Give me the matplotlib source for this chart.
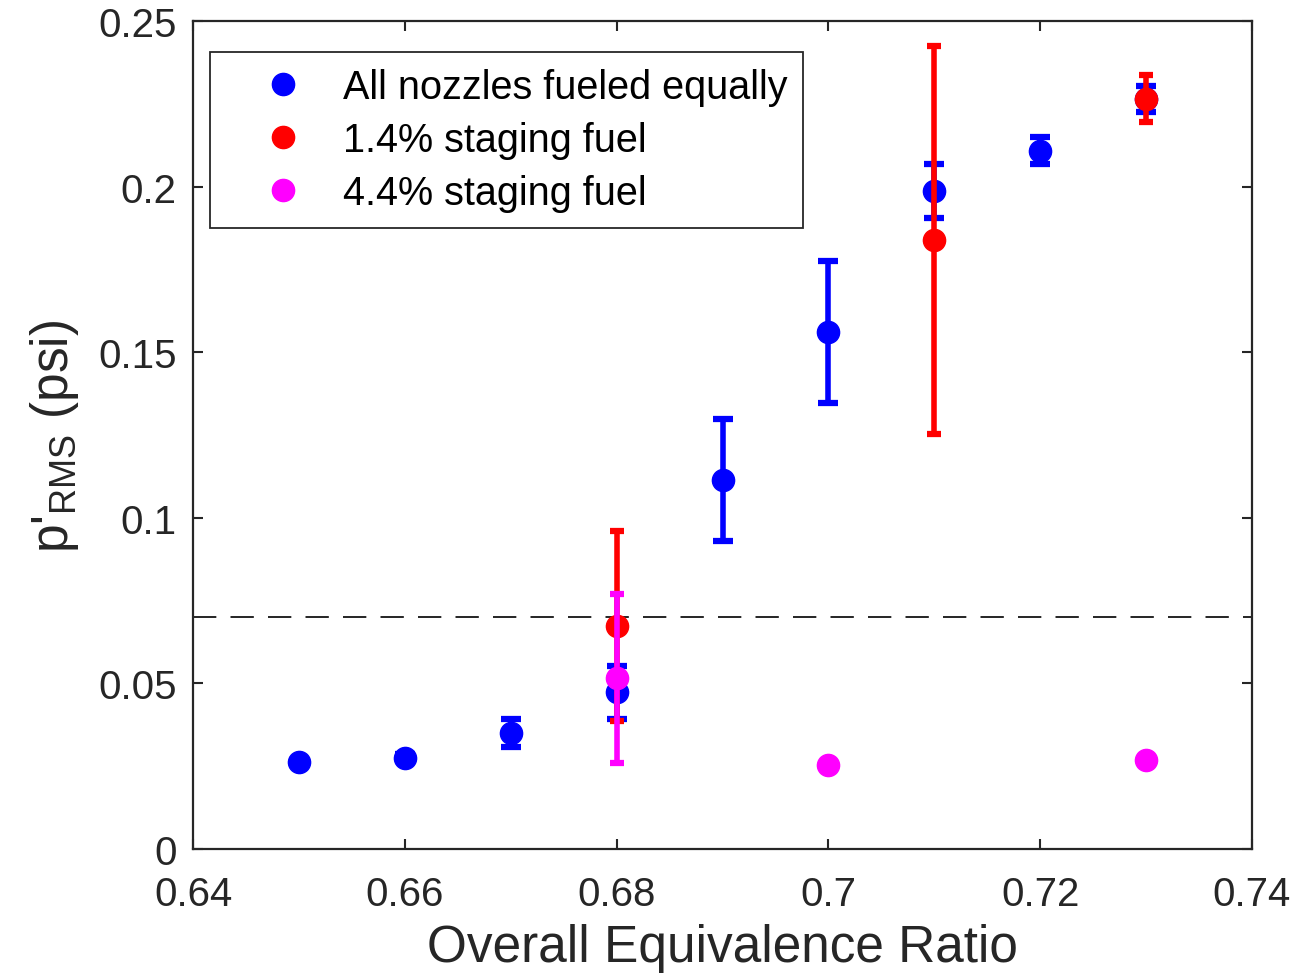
import numpy as np
import matplotlib
matplotlib.use('Agg')
from matplotlib import pyplot as plt

# all nozzles fueled equally
phi_eq = [0.65, 0.66, 0.67, 0.68, 0.69, 0.70, 0.71, 0.72, 0.73]
p_eq = [0.0262, 0.0276, 0.0350, 0.0473, 0.1114, 0.1561, 0.1987, 0.2108, 0.2265]
err_eq = [0.0007, 0.0010, 0.0041, 0.0080, 0.0183, 0.0213, 0.0082, 0.0041, 0.0040]

# 1.4% staging fuel
phi_14 = [0.68, 0.71, 0.73]
p_14 = [0.0673, 0.1839, 0.2266]
err_14 = [0.0287, 0.0585, 0.0071]

# 4.4% staging fuel
phi_44 = [0.68, 0.70, 0.73]
p_44 = [0.0516, 0.0254, 0.0269]
err_44 = [0.0255, 0.0005, 0.0005]

labels = ['All nozzles fueled equally', '1.4% staging fuel', '4.4% staging fuel']
threshold = 0.07

dark = '#262626'
plt.rcParams['font.family'] = ['Liberation Sans', 'DejaVu Sans']
plt.rcParams['mathtext.default'] = 'regular'

fig = plt.figure(figsize=(12.94, 9.78), dpi=100)
ax = fig.add_axes([0.1492, 0.1309, 0.8183, 0.8466])

ax.axhline(threshold, color='k', linestyle=(0, (14, 8.5)), linewidth=1.2, zorder=1)

h1 = ax.errorbar(phi_eq, p_eq, yerr=err_eq, fmt='o', color='#0000ff', markersize=16,
                 elinewidth=4, capsize=7.5, capthick=4.5, zorder=3)
h2 = ax.errorbar(phi_14, p_14, yerr=err_14, fmt='o', color='#ff0000', markersize=16,
                 elinewidth=4, capsize=5, capthick=4.5, zorder=4)
h3 = ax.errorbar(phi_44, p_44, yerr=err_44, fmt='o', color='#ff00ff', markersize=16,
                 elinewidth=4, capsize=5, capthick=4.5, zorder=5)

ax.set_xlim(0.64, 0.74)
ax.set_ylim(0, 0.25)
ax.set_xticks([0.64, 0.66, 0.68, 0.70, 0.72, 0.74])
ax.set_xticklabels(['0.64', '0.66', '0.68', '0.7', '0.72', '0.74'])
ax.set_yticks([0, 0.05, 0.1, 0.15, 0.2, 0.25])
ax.set_yticklabels(['0', '0.05', '0.1', '0.15', '0.2', '0.25'])

ax.tick_params(direction='in', length=7, width=1.5, colors=dark, labelsize=29,
               top=True, right=True)
ax.tick_params(axis='x', pad=19)
ax.tick_params(axis='y', pad=12)
for s in ax.spines.values():
    s.set_color(dark)
    s.set_linewidth(1.6)

ax.set_xlabel('Overall Equivalence Ratio', fontsize=37, color=dark, labelpad=7)
ax.set_ylabel("p'$_{RMS}$ (psi)", fontsize=37, color=dark, labelpad=12)

leg = ax.legend([h1[0], h2[0], h3[0]], labels, loc='upper left', fontsize=28.5,
                bbox_to_anchor=(0.016, 0.9626), borderaxespad=0, markerscale=1,
                handlelength=2.9, handletextpad=0.05, borderpad=0.4,
                labelspacing=0.38, fancybox=False, framealpha=1)
leg.get_frame().set_edgecolor(dark)
leg.get_frame().set_linewidth(1.3)

fig.savefig('out.png', dpi=100)
